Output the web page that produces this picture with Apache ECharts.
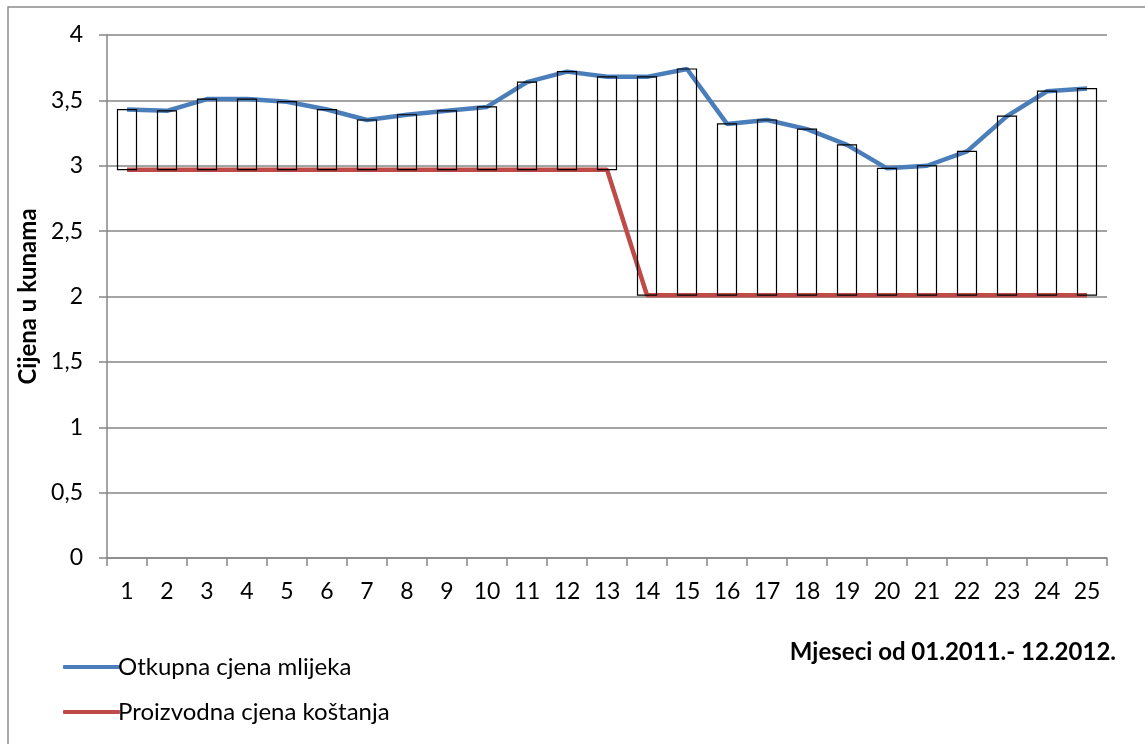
<!DOCTYPE html>
<html>
<head>
<meta charset="utf-8">
<script src="https://cdn.jsdelivr.net/npm/echarts@6/dist/echarts.min.js"></script>
<style>
html,body{margin:0;padding:0;background:#fff;}
#chart{width:1145px;height:744px;}
</style>
</head>
<body>
<div id="chart"></div>
<script>
const months = ['1','2','3','4','5','6','7','8','9','10','11','12','13','14','15','16','17','18','19','20','21','22','23','24','25'];
const otkupnaCijena = [3.43,3.42,3.51,3.51,3.49,3.43,3.35,3.39,3.42,3.45,3.64,3.72,3.68,3.68,3.74,3.32,3.35,3.28,3.16,2.98,3.00,3.11,3.38,3.57,3.59];
const proizvodnaCijena = [2.97,2.97,2.97,2.97,2.97,2.97,2.97,2.97,2.97,2.97,2.97,2.97,2.97,2.01,2.01,2.01,2.01,2.01,2.01,2.01,2.01,2.01,2.01,2.01,2.01];
const yTicks = [0,0.5,1,1.5,2,2.5,3,3.5,4];

const FONT = 'Lato';
const upDown = months.map((m, i) => {
  const a = proizvodnaCijena[i], b = otkupnaCijena[i];
  return [a, b, Math.min(a, b), Math.max(a, b)];
});

const chart = echarts.init(document.getElementById('chart'), null, {renderer: 'canvas'});
chart.setOption({
  animation: false,
  backgroundColor: '#fff',
  textStyle: {fontFamily: FONT},
  graphic: [{
    type: 'rect', shape: {x: 8, y: 7, width: 1300, height: 900},
    style: {fill: 'none', stroke: '#8c8c8c', lineWidth: 1.5}, z: -10
  }],
  title: {
    text: 'Mjeseci od 01.2011.- 12.2012.',
    right: 24, top: 635,
    textStyle: {fontFamily: FONT, fontWeight: 'bold', fontSize: 24, color: '#000'}
  },
  legend: {
    orient: 'vertical', left: 58, top: 650,
    itemWidth: 57, itemHeight: 4, itemGap: 21,
    icon: 'roundRect',
    data: ['Otkupna cjena mlijeka', 'Proizvodna cjena koštanja'],
    textStyle: {fontFamily: FONT, fontSize: 24, color: '#000', padding: [0,0,0,-7]}
  },
  grid: {left: 107, right: 38, top: 35, bottom: 186},
  xAxis: {
    type: 'category', data: months, boundaryGap: true,
    axisLine: {lineStyle: {color: '#868686', width: 1.5}},
    axisTick: {show: true, length: 8, lineStyle: {color: '#868686', width: 1.5}},
    axisLabel: {color: '#000', fontSize: 23, fontFamily: FONT, margin: 22}
  },
  yAxis: {
    type: 'value', min: 0, max: 4, interval: 0.5,
    name: 'Cijena u kunama', nameLocation: 'middle', nameGap: 63,
    nameTextStyle: {fontFamily: FONT, fontWeight: 'bold', fontSize: 24, color: '#000'},
    axisLine: {show: true, lineStyle: {color: '#868686', width: 1.5}},
    axisTick: {show: true, length: 8, lineStyle: {color: '#868686', width: 1.5}},
    splitLine: {lineStyle: {color: '#868686', width: 1.5}},
    axisLabel: {
      color: '#000', fontSize: 23, fontFamily: FONT, margin: 24,
      formatter: v => (yTicks.includes(v) ? String(v).replace('.', ',') : '')
    }
  },
  series: [
    {
      name: 'Otkupna cjena mlijeka', type: 'line', data: otkupnaCijena,
      symbol: 'none', lineStyle: {color: '#4a7ebb', width: 4.5}, itemStyle: {color: '#4a7ebb'}, z: 2
    },
    {
      name: 'Proizvodna cjena koštanja', type: 'line', data: proizvodnaCijena,
      symbol: 'none', lineStyle: {color: '#be4b48', width: 4.5}, itemStyle: {color: '#be4b48'}, z: 2
    },
    {
      name: 'updown', type: 'candlestick', data: upDown, barWidth: 19,
      itemStyle: {color: 'rgba(0,0,0,0)', color0: 'rgba(0,0,0,0)', borderColor: '#000', borderColor0: '#000', borderWidth: 1.2},
      z: 5
    }
  ]
});
</script>
</body>
</html>
